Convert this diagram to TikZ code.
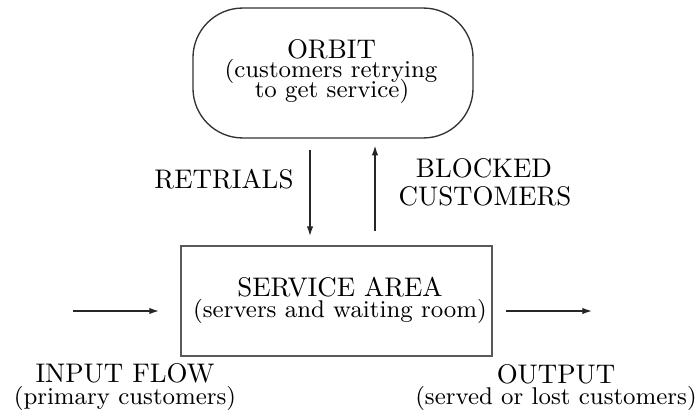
\documentclass[tikz,border=0pt]{standalone}
\usetikzlibrary{arrows.meta}
\begin{document}
\begin{tikzpicture}[x=0.3717pt, y=-0.3717pt,
  mainlbl/.style={inner sep=0pt, anchor=base, font=\fontsize{10}{12}\selectfont},
  sublbl/.style={inner sep=0pt, anchor=base, font=\fontsize{9}{11}\selectfont},
  orbitbox/.style={draw=black!80, line width=0.5pt, rounded corners=18.5pt,
    minimum width=104.1pt, minimum height=48.3pt, inner sep=0pt},
  servbox/.style={draw=black!65, line width=0.8pt,
    minimum width=115.6pt, minimum height=40.9pt, inner sep=0pt},
  arr/.style={draw=black!85, line width=0.5pt, -{Latex[length=3.6pt,width=2.4pt]}}]
\useasboundingbox (0,0) rectangle (700,412);

% shapes
\node[orbitbox] (orbit) at (333,73) {};
\node[servbox] (serv) at (336.5,301) {};

% orbit text
\node[mainlbl] (orbT) at (331.5,58) {ORBIT};
\node[sublbl] (orbS1) at (331,77) {(customers retrying};
\node[sublbl] (orbS2) at (332,97) {to get service)};

% service text
\node[mainlbl] (servT) at (340,296) {SERVICE AREA};
\node[sublbl] (servS) at (340,317) {(servers and waiting room)};

% side labels
\node[mainlbl, anchor=base east] (retr) at (294,188) {RETRIALS};
\node[mainlbl] (blk1) at (484,177) {BLOCKED};
\node[mainlbl] (blk2) at (485,205) {CUSTOMERS};

\node[mainlbl] (inT) at (125,382) {INPUT FLOW};
\node[sublbl] (inS) at (125,404) {(primary customers)};
\node[mainlbl] (outT) at (556,383) {OUTPUT};
\node[sublbl] (outS) at (556,404) {(served or lost customers)};

% connector coordinates
\coordinate (rx) at (310,0);
\coordinate (bx) at (375,0);
\coordinate (inL) at (73,311);
\coordinate (outR) at (592,311);

% connectors
\draw[arr, shorten <=4.1pt, shorten >=3.3pt] (orbit.south -| rx) -- (serv.north -| rx);
\draw[arr, shorten <=5.2pt, shorten >=2.6pt] (serv.north -| bx) -- (orbit.south -| bx);
\draw[arr, shorten >=7.8pt] (inL) -- (serv.west |- inL);
\draw[arr, shorten <=4.8pt] (serv.east |- outR) -- (outR);
\end{tikzpicture}
\end{document}
